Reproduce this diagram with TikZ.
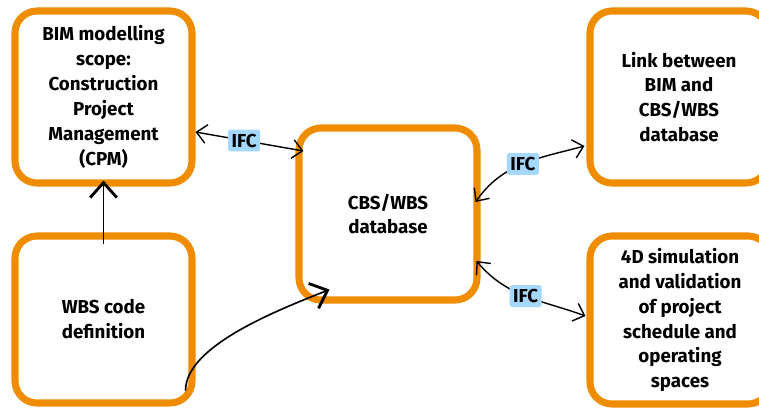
\documentclass[tikz,border=0pt]{standalone}
\usepackage{fontspec}
\setmainfont{Fira Sans}
\usetikzlibrary{arrows.meta}

\definecolor{boxorange}{HTML}{F08C00}
\definecolor{ifcblue}{HTML}{A5D8FF}

\tikzset{
	stage/.style={draw=boxorange, line width=6pt, rounded corners=0.66cm, fill=white,
		minimum width=5.31cm, minimum height=5.16cm, align=center,
		font=\bfseries\fontsize{16}{21.3}\selectfont},
	ifc/.style={fill=ifcblue, rounded corners=2pt, inner xsep=3pt, inner ysep=3.5pt,
		font=\bfseries\fontsize{16}{19}\selectfont},
	twoway/.style={line width=1.2pt,
		{Straight Barb[length=3mm,width=5.6mm]}-{Straight Barb[length=3mm,width=5.6mm]}},
	feed/.style={line width=1.4pt, -{Straight Barb[length=4.5mm,width=8mm,line width=2.4pt]}}
}

\begin{document}
\begin{tikzpicture}[x=0.03cm, y=-0.03cm]
		%%%%% START %%%%%
		
		\fill[white] (0, 0) rectangle (759, 410);
		\useasboundingbox (0, 0) rectangle (759, 410);
		
		\node[stage] (bim) at (103.5, 97) {BIM modelling\\scope:\\Construction\\Project\\Management\\(CPM)};
		\node[stage, minimum height=5.01cm] (wbs) at (103.5, 319.5) {WBS code\\definition};
		\node[stage, minimum width=5.34cm] (cbs) at (388, 214) {CBS/WBS\\database};
		\node[stage, minimum width=5.34cm] (link) at (679, 97) {Link between\\BIM and\\CBS/WBS\\database};
		\node[stage, minimum width=5.4cm, minimum height=5.04cm] (sim) at (680, 320) {4D simulation\\and validation\\of project\\schedule and\\operating\\spaces};
		
		\draw[twoway] ([yshift=-1.05cm]bim.east) -- node[ifc, pos=0.45] {IFC} ([xshift=0.24cm, yshift=1.89cm]cbs.west);
		\draw[twoway] ([xshift=-0.15cm, yshift=0.36cm]cbs.east) to[out=55, in=195] node[ifc] {IFC} ([xshift=-0.06cm, yshift=-1.47cm]link.west);
		\draw[twoway] ([xshift=-0.12cm, yshift=-1.41cm]cbs.east) to[out=-50, in=160] node[ifc] {IFC} ([xshift=-0.03cm, yshift=0.12cm]sim.west);
		
		\draw[feed] ([yshift=-0.36cm]wbs.north) -- ([yshift=0.18cm]bim.south);
		\draw[feed] ([xshift=-0.3cm, yshift=0.48cm]wbs.south east) .. controls +(0, -45) and +(-50, 20) .. ([xshift=1.02cm, yshift=0.42cm]cbs.south west);
		
		%%%%% END %%%%%
	\end{tikzpicture}
\end{document}
